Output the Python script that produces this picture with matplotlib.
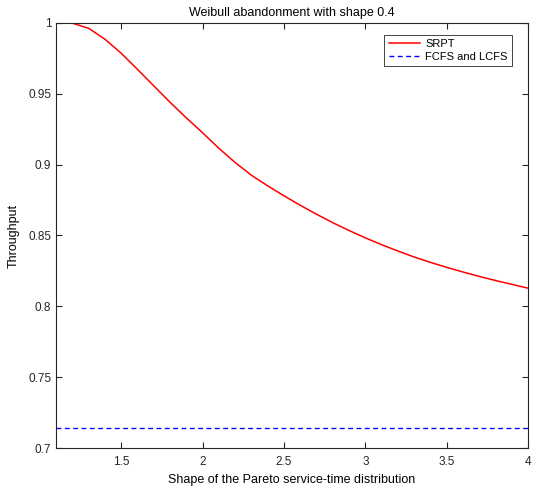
import matplotlib
matplotlib.use('Agg')
import matplotlib.pyplot as plt
import numpy as np

plt.rcParams['font.family'] = ['Liberation Sans', 'DejaVu Sans']

# Pareto shape values and throughput
shape = [1.1, 1.2, 1.3, 1.4, 1.5, 1.6, 1.7, 1.8, 1.9, 2.0,
         2.1, 2.2, 2.3, 2.4, 2.5, 2.6, 2.7, 2.8, 2.9, 3.0,
         3.1, 3.2, 3.3, 3.4, 3.5, 3.6, 3.7, 3.8, 3.9, 4.0]
srpt = [1.0000, 0.9998, 0.9962, 0.9885, 0.9786, 0.9672, 0.9556, 0.9440, 0.9330, 0.9225,
        0.9115, 0.9015, 0.8925, 0.8850, 0.8780, 0.8713, 0.8650, 0.8590, 0.8535, 0.8483,
        0.8435, 0.8390, 0.8348, 0.8310, 0.8275, 0.8242, 0.8211, 0.8182, 0.8155, 0.8128]
fcfs_lcfs = 0.714

xticks = [1.5, 2, 2.5, 3, 3.5, 4]
yticks = [0.7, 0.75, 0.8, 0.85, 0.9, 0.95, 1]

fig = plt.figure(figsize=(5.34, 4.87), dpi=100)
ax = fig.add_axes([0.105, 0.080, 0.884, 0.873])

ax.plot(shape, srpt, color='red', linewidth=1.1, label='SRPT')
ax.plot([shape[0], shape[-1]], [fcfs_lcfs, fcfs_lcfs], color='blue', linestyle='--',
        linewidth=1, dashes=(3.5, 2.5), label='FCFS and LCFS')

ax.set_xlim(1.1, 4)
ax.set_ylim(0.7, 1)
ax.set_xticks(xticks)
ax.set_xticklabels(['1.5', '2', '2.5', '3', '3.5', '4'])
ax.set_yticks(yticks)
ax.set_yticklabels(['0.7', '0.75', '0.8', '0.85', '0.9', '0.95', '1'])

ax.tick_params(direction='in', length=4, width=0.8, labelsize=8.5,
               colors='#262626', top=True, right=True)
ax.tick_params(axis='x', pad=6)
for s in ax.spines.values():
    s.set_color('#262626')
    s.set_linewidth(0.8)

ax.set_title('Weibull abandonment with shape 0.4', fontsize=9, pad=5)
ax.set_xlabel('Shape of the Pareto service-time distribution', fontsize=9, labelpad=4)
ax.set_ylabel('Throughput', fontsize=9, labelpad=6)

leg = ax.legend(loc='upper right', fontsize=8, fancybox=False, framealpha=1,
                edgecolor='#262626', handlelength=2.8, handletextpad=0.5,
                borderpad=0.4, labelspacing=0.25, bbox_to_anchor=(0.978, 0.985))
leg.get_frame().set_linewidth(0.6)

fig.savefig('out.png', dpi=100)
